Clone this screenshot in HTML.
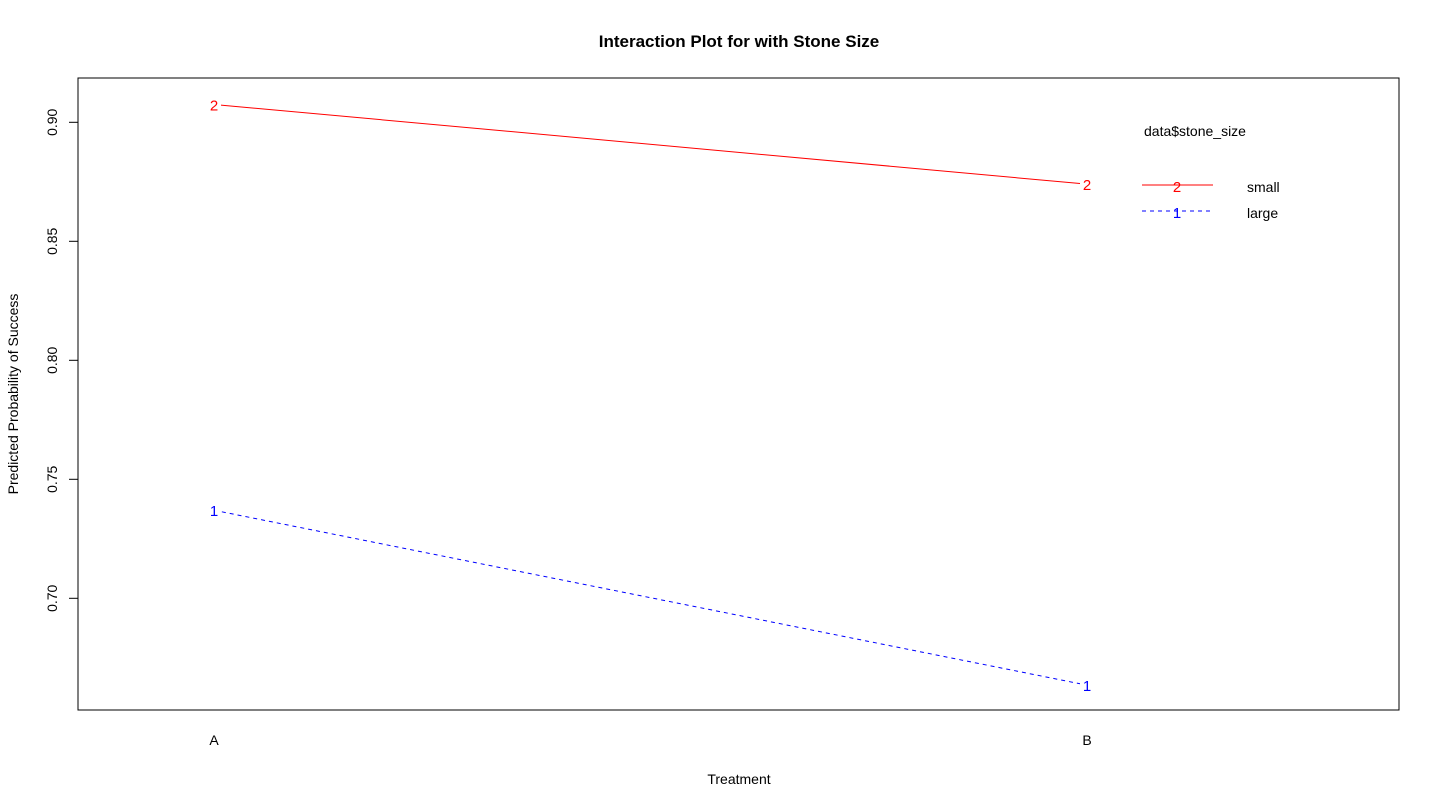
<!DOCTYPE html>
<html><head><meta charset="utf-8"><style>
html,body{margin:0;padding:0;background:#fff;}
svg{display:block;font-family:"Liberation Sans",Arial,sans-serif;}
</style></head><body>
<svg id="chart" width="1440" height="809">
<text x="739" y="47" text-anchor="middle" font-size="17" font-weight="bold">Interaction Plot for with Stone Size</text>
<rect x="78" y="78" width="1321" height="632" fill="none" stroke="#000" stroke-width="1"/>
<g id="yaxis"></g>
<g id="xaxis"></g>
<g id="series"></g>
<text transform="translate(18,394) rotate(-90)" text-anchor="middle" font-size="14">Predicted Probability of Success</text>
<text x="739" y="784" text-anchor="middle" font-size="14">Treatment</text>
<g>
<text x="1144" y="136" font-size="14">data$stone_size</text>
<line x1="1142" y1="185" x2="1213" y2="185" stroke="#ff0000"/>
<text x="1177" y="192" text-anchor="middle" font-size="15" fill="#ff0000">2</text>
<text x="1247" y="192" font-size="14">small</text>
<line x1="1142" y1="211" x2="1213" y2="211" stroke="#0000ff" stroke-dasharray="4,4"/>
<text x="1177" y="218" text-anchor="middle" font-size="15" fill="#0000ff">1</text>
<text x="1247" y="218" font-size="14">large</text>
</g>
</svg>
<script>
const categories = ["A", "B"];
const smallValues = [0.9075, 0.874];
const largeValues = [0.737, 0.6635];
const yTicks = [0.70, 0.75, 0.80, 0.85, 0.90];
const yTickLabels = ["0.70", "0.75", "0.80", "0.85", "0.90"];

const NS = "http://www.w3.org/2000/svg";
function yScale(v){ return 122.3 + (0.90 - v) * 2380; }
function xScale(i){ return 214 + i * 873; }
function mk(tag, attrs, parent){
  const e = document.createElementNS(NS, tag);
  for (const k in attrs) e.setAttribute(k, attrs[k]);
  parent.appendChild(e); return e;
}
const yaxis = document.getElementById('yaxis');
yTicks.forEach((t, i) => {
  const y = yScale(t);
  const l = mk('line', {x1:69, x2:78, y1:y, y2:y, stroke:'#000'}, yaxis);
  
  
  const tx = mk('text', {transform:`translate(57,${y}) rotate(-90)`, 'text-anchor':'middle', 'font-size':14}, yaxis);
  tx.textContent = yTickLabels[i];
  
  
});
const xaxis = document.getElementById('xaxis');
categories.forEach((c, i) => {
  const tx = mk('text', {x:xScale(i), y:745, 'text-anchor':'middle', 'font-size':14}, xaxis);
  tx.textContent = c;
  
  
});
const series = document.getElementById('series');
function drawSeries(vals, color, dash, sym, name){
  const pts = vals.map((v, i) => [xScale(i), yScale(v)]);
  const attrs = {points: pts.map(p => p.join(',')).join(' '), fill:'none', stroke:color, 'stroke-width':1};
  if (dash) attrs['stroke-dasharray'] = dash;
  const pl = mk('polyline', attrs, series);
  
  
  pts.forEach(p => {
    const bg = mk('rect', {x:p[0]-7, y:p[1]-9, width:14, height:18, fill:'#fff'}, series);
    
    
    const t = mk('text', {x:p[0], y:p[1]+6, 'text-anchor':'middle', 'font-size':15, fill:color}, series);
    t.textContent = sym;
    
    
  });
}
drawSeries(smallValues, '#ff0000', null, '2', 'small');
drawSeries(largeValues, '#0000ff', '4,4', '1', 'large');
</script>
</body></html>
